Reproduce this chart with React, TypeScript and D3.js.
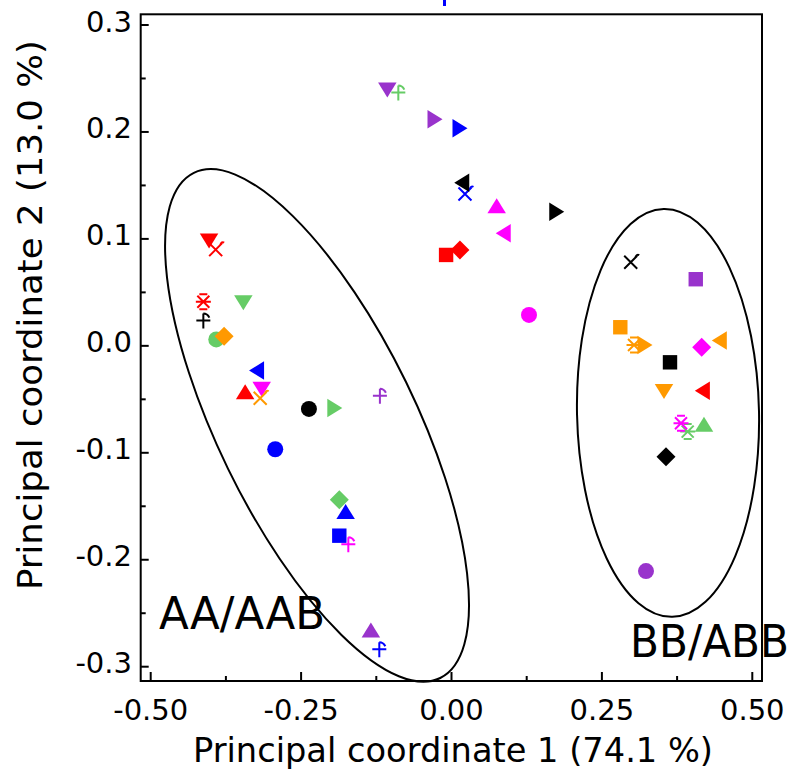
import React from 'react';
import * as d3 from 'd3';

// ---- data ----
type Pt = [number, number, string];

const redSamples: Pt[] = [
  [-0.403, 0.098, 'triDown'],
  [-0.392, 0.09, 'xflag'],
  [-0.4125, 0.0413, 'asterisk'],
  [-0.343, -0.043, 'triUp'],
  [-0.009, 0.085, 'square'],
  [0.014, 0.0897, 'diamond'],
  [0.417, -0.042, 'triLeft'],
];
const blueSamples: Pt[] = [
  [-0.324, -0.023, 'triLeft'],
  [-0.293, -0.0967, 'circle'],
  [-0.176, -0.155, 'triUp'],
  [-0.1865, -0.1775, 'square'],
  [-0.12, -0.2837, 'plusflag'],
  [0.0141, 0.2035, 'triRight'],
  [0.0224, 0.142, 'xflag'],
];
const greenSamples: Pt[] = [
  [-0.346, 0.0404, 'triDown'],
  [-0.391, 0.006, 'circle'],
  [-0.194, -0.058, 'triRight'],
  [-0.1865, -0.144, 'diamond'],
  [-0.0884, 0.2368, 'plusflag'],
  [0.3926, -0.0802, 'asterisk'],
  [0.4197, -0.0733, 'triUp'],
];
const magentaSamples: Pt[] = [
  [-0.3155, -0.0406, 'triDown'],
  [-0.1715, -0.1855, 'plusflag'],
  [0.0751, 0.1311, 'triUp'],
  [0.086, 0.1053, 'triLeft'],
  [0.1288, 0.0289, 'circle'],
  [0.4159, -0.0013, 'diamond'],
  [0.3815, -0.0724, 'asterisk'],
];
const purpleSamples: Pt[] = [
  [-0.119, -0.0466, 'plusflag'],
  [-0.134, -0.2656, 'triUp'],
  [-0.1067, 0.2393, 'triDown'],
  [-0.0274, 0.2119, 'triRight'],
  [0.406, 0.0623, 'square'],
  [0.3233, -0.2106, 'circle'],
];
const orangeSamples: Pt[] = [
  [-0.378, 0.009, 'diamond'],
  [-0.318, -0.049, 'xflag'],
  [0.2806, 0.0174, 'square'],
  [0.3034, 0.0008, 'asterisk'],
  [0.3216, 0.0008, 'triRight'],
  [0.4452, 0.0049, 'triLeft'],
  [0.3532, -0.0428, 'triDown'],
];
const blackSamples: Pt[] = [
  [-0.4125, 0.0236, 'plusflag'],
  [-0.237, -0.059, 'circle'],
  [0.017, 0.1526, 'triLeft'],
  [0.1749, 0.1255, 'triRight'],
  [0.2979, 0.0782, 'xflag'],
  [0.3632, -0.0154, 'square'],
  [0.3566, -0.1036, 'diamond'],
];

const xMajorTicks = [-0.5, -0.25, 0, 0.25, 0.5];
const xMinorTicks = [-0.375, -0.125, 0.125, 0.375];
const xTickLabels = ['-0.50', '-0.25', '0.00', '0.25', '0.50'];
const yMajorTicks = [0.3, 0.2, 0.1, 0, -0.1, -0.2, -0.3];
const yMinorTicks = [0.25, 0.15, 0.05, -0.05, -0.15, -0.25];
const yTickLabels = ['0.3', '0.2', '0.1', '0.0', '-0.1', '-0.2', '-0.3'];

const xTitle = 'Principal coordinate 1 (74.1 %)';
const yTitle = 'Principal coordinate 2 (13.0 %)';

// group ellipses: center in data units
const groupNames = ['AA/AAB', 'BB/ABB'];
const groupCenterX = [-0.2235, 0.3599];
const groupCenterY = [-0.0744, -0.0627];

// ---- layout ----
const W = 791;
const H = 773;
const frame = { left: 140.7, right: 762, top: 14.3, bottom: 681 };
const xScale = d3.scaleLinear().domain([-0.5, 0.5]).range([150.7, 752.3]);
const yScale = d3.scaleLinear().domain([0.3, -0.3]).range([25, 666.7]);

const groups = [
  { name: 'red', color: '#ff0000', pts: redSamples },
  { name: 'blue', color: '#0000ff', pts: blueSamples },
  { name: 'green', color: '#66cc66', pts: greenSamples },
  { name: 'magenta', color: '#ff00ff', pts: magentaSamples },
  { name: 'purple', color: '#9933cc', pts: purpleSamples },
  { name: 'orange', color: '#ff9900', pts: orangeSamples },
  { name: 'black', color: '#000000', pts: blackSamples },
];

const ellipseStyle = [
  { rx: 99, ry: 281, rot: -26 },
  { rx: 91, ry: 204, rot: -1.2 },
];
const groupLabelPos = [
  { x: 159, y: 629, len: 166 },
  { x: 630, y: 657, len: 159 },
];

function triPath(w: number, h: number) {
  return `M0,${-h / 2}L${w / 2},${h / 2}L${-w / 2},${h / 2}Z`;
}

function Marker({ shape, color, cx, cy }: { shape: string; color: string; cx: number; cy: number }) {
  const t = `translate(${cx},${cy})`;
  switch (shape) {
    case 'circle':
      return <circle cx={cx} cy={cy} r={8} fill={color} />;
    case 'square':
      return <rect x={cx - 7.2} y={cy - 7.2} width={14.4} height={14.4} fill={color} />;
    case 'diamond':
      return <path transform={t} d="M0,-9.5L9.5,0L0,9.5L-9.5,0Z" fill={color} />;
    case 'triUp':
      return <path transform={t} d={triPath(18.5, 15)} fill={color} />;
    case 'triDown':
      return <path transform={`${t} rotate(180)`} d={triPath(18.5, 15)} fill={color} />;
    case 'triLeft':
      return <path transform={`${t} rotate(-90)`} d={triPath(18.5, 15)} fill={color} />;
    case 'triRight':
      return <path transform={`${t} rotate(90)`} d={triPath(18.5, 15)} fill={color} />;
    case 'asterisk':
      return (
        <path
          transform={t}
          d="M-6,-6L6,6M6,-6L-6,6M-7.5,0H7.5M-4,-7.5H4M-4,7.5H4"
          stroke={color}
          strokeWidth={2}
          fill="none"
        />
      );
    case 'xflag':
      return (
        <path
          transform={t}
          d="M-6.5,-6.5L6.5,6.5M6.5,-6.5L-6.5,6.5M4.5,-4.5Q6,-8.5 8.5,-7"
          stroke={color}
          strokeWidth={2}
          fill="none"
        />
      );
    case 'plusflag':
    default:
      return (
        <path
          transform={t}
          d="M-7,0H7M0,-7V8M0,-7Q4,-7 6,-3"
          stroke={color}
          strokeWidth={2}
          fill="none"
        />
      );
  }
}

export default function App() {
  const font = '"DejaVu Sans", "Liberation Sans", sans-serif';
  return (
    <div style={{ position: 'absolute', left: 0, top: 0, width: W, height: H, background: '#fff' }}>
      <svg width={W} height={H} viewBox={`0 0 ${W} ${H}`} style={{ display: 'block' }}>
        <rect width={W} height={H} fill="#fff" />

        {/* clipped blue mark above the frame */}
        <rect x={443} y={0} width={3} height={6} fill="#0000ff" />

        {/* ellipses */}
        {groupNames.map((g, i) => (
          <ellipse
            key={g}
            cx={0}
            cy={0}
            rx={ellipseStyle[i].rx}
            ry={ellipseStyle[i].ry}
            transform={`translate(${xScale(groupCenterX[i])},${yScale(groupCenterY[i])}) rotate(${ellipseStyle[i].rot})`}
            fill="none"
            stroke="#000"
            strokeWidth={2}
          />
        ))}

        {/* points */}
        {groups.map((g) =>
          g.pts.map((p, j) => (
            <Marker key={`${g.name}-${j}`} shape={p[2]} color={g.color} cx={xScale(p[0])} cy={yScale(p[1])} />
          ))
        )}

        {/* frame */}
        <rect
          x={frame.left}
          y={frame.top}
          width={frame.right - frame.left}
          height={frame.bottom - frame.top}
          fill="none"
          stroke="#000"
          strokeWidth={2}
        />

        {/* x ticks */}
        {xMajorTicks.map((v) => (
          <line key={`xm${v}`} x1={xScale(v)} x2={xScale(v)} y1={frame.bottom} y2={frame.bottom - 9} stroke="#000" strokeWidth={2} />
        ))}
        {xMinorTicks.map((v) => (
          <line key={`xn${v}`} x1={xScale(v)} x2={xScale(v)} y1={frame.bottom} y2={frame.bottom - 5} stroke="#000" strokeWidth={2} />
        ))}
        {xMajorTicks.map((v, i) => (
          <text key={`xl${v}`} x={xScale(v)} y={720} textAnchor="middle" fontFamily={font} fontSize={29} fill="#000">
            {xTickLabels[i]}
          </text>
        ))}

        {/* y ticks */}
        {yMajorTicks.map((v) => (
          <line key={`ym${v}`} x1={frame.left} x2={frame.left + 8} y1={yScale(v)} y2={yScale(v)} stroke="#000" strokeWidth={2} />
        ))}
        {yMinorTicks.map((v) => (
          <line key={`yn${v}`} x1={frame.left} x2={frame.left + 5} y1={yScale(v)} y2={yScale(v)} stroke="#000" strokeWidth={2} />
        ))}
        {yMajorTicks.map((v, i) => (
          <text key={`yl${v}`} x={132} y={yScale(v) + 6.5} textAnchor="end" fontFamily={font} fontSize={29} fill="#000">
            {yTickLabels[i]}
          </text>
        ))}

        {/* axis titles */}
        <text x={453} y={762} textAnchor="middle" fontFamily={font} fontSize={34} textLength={520} lengthAdjust="spacingAndGlyphs" fill="#000">
          {xTitle}
        </text>
        <text
          transform="translate(42,315) rotate(-90)"
          textAnchor="middle"
          fontFamily={font}
          fontSize={34}
          textLength={550}
          lengthAdjust="spacingAndGlyphs"
          fill="#000"
        >
          {yTitle}
        </text>

        {/* group labels */}
        {groupNames.map((g, i) => (
          <text
            key={`gl${g}`}
            x={groupLabelPos[i].x}
            y={groupLabelPos[i].y}
            fontFamily={font}
            fontSize={44}
            textLength={groupLabelPos[i].len}
            lengthAdjust="spacingAndGlyphs"
            fill="#000"
          >
            {g}
          </text>
        ))}
      </svg>
    </div>
  );
}
